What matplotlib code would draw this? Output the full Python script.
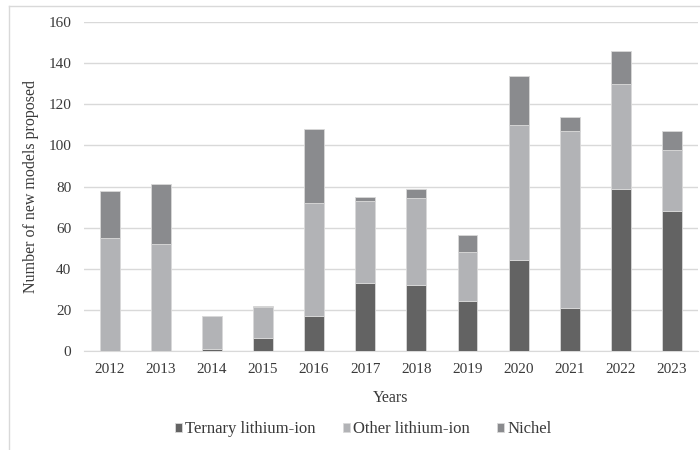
import matplotlib
matplotlib.use("Agg")
import matplotlib.pyplot as plt
from matplotlib.lines import Line2D

years = ["2012", "2013", "2014", "2015", "2016", "2017",
         "2018", "2019", "2020", "2021", "2022", "2023"]
ternary = [0, 0, 1, 6, 17, 33, 32, 24, 44, 21, 79, 68]
other = [55, 52, 16, 15.5, 55, 40, 42.5, 24, 66, 86, 51, 30]
nichel = [23, 29, 0, 0.5, 36, 2, 4.5, 8.5, 24, 7, 16, 9]

plt.rcParams['font.family'] = ['Liberation Serif', 'DejaVu Serif']

fig = plt.figure(figsize=(7, 4.5), dpi=100)
ax = fig.add_axes([0.12, 0.2207, 0.8766, 0.7297])

x = list(range(len(years)))
w = 0.39
bottom2 = [a + b for a, b in zip(ternary, other)]
ax.bar(x, ternary, w, color="#636363", edgecolor="#d9d9d9", linewidth=0.6,
       label="Ternary lithium-ion", zorder=3)
ax.bar(x, other, w, bottom=ternary, color="#b2b3b6", edgecolor="#d9d9d9",
       linewidth=0.6, label="Other lithium-ion", zorder=3)
ax.bar(x, nichel, w, bottom=bottom2, color="#8a8b8e", edgecolor="#d9d9d9",
       linewidth=0.6, label="Nichel", zorder=3)

ax.set_xlim(-0.5, len(years) - 0.5)
ax.set_ylim(0, 160)
ax.set_yticks(range(0, 161, 20))
ax.set_xticks(x)
ax.set_xticklabels(years)
ax.yaxis.grid(True, color="#d9d9d9", linewidth=1)
ax.set_axisbelow(True)
for s in ["top", "right", "left"]:
    ax.spines[s].set_visible(False)
ax.spines["bottom"].set_color("#d9d9d9")
ax.tick_params(axis="both", length=0, labelsize=11, colors="#3a3a3a")
ax.tick_params(axis="y", pad=9)
ax.tick_params(axis="x", pad=9)

ax.set_xlabel("Years", fontsize=11.5, color="#3a3a3a", labelpad=10)
ax.set_ylabel("Number of new models proposed", fontsize=11.5,
              color="#3a3a3a", labelpad=7)

ax.legend(loc="center", bbox_to_anchor=(0.455, -0.24), ncol=3,
          frameon=False, fontsize=12, handlelength=0.45, handleheight=0.45,
          handletextpad=0.2, columnspacing=1.6, labelcolor="#3a3a3a")

# outer chart border (top and left only visible)
fig.add_artist(Line2D([9 / 700, 9 / 700], [0, 1 - 6 / 450], color="#d9d9d9",
                      linewidth=1, transform=fig.transFigure))
fig.add_artist(Line2D([9 / 700, 1], [1 - 6 / 450, 1 - 6 / 450],
                      color="#d9d9d9", linewidth=1, transform=fig.transFigure))

fig.savefig("out.png", dpi=100)
